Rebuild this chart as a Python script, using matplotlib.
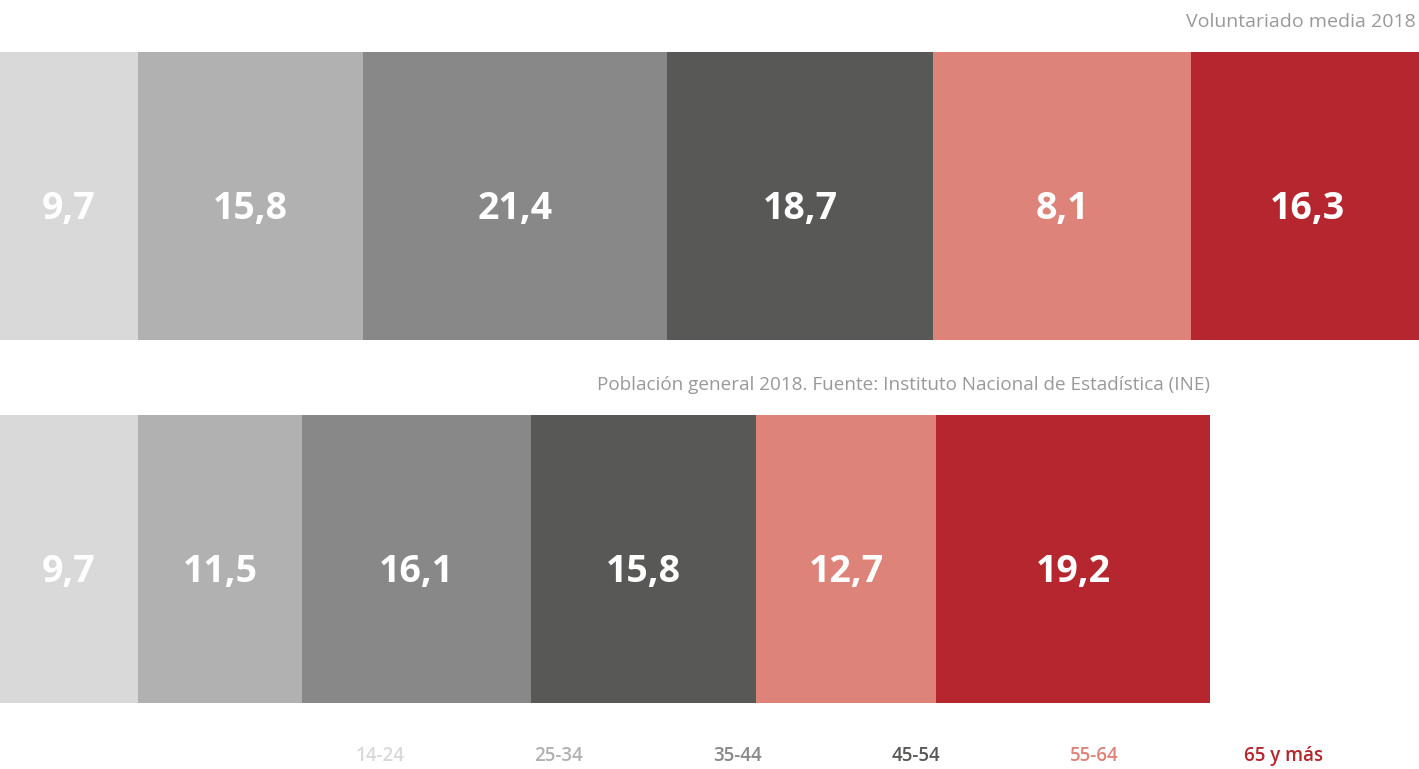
import matplotlib.pyplot as plt
import numpy as np

# Age groups and shares (%)
groups = ['14-24', '25-34', '35-44', '45-54', '55-64', '65 y más']
voluntariado = [9.7, 15.8, 21.4, 18.7, 18.1, 16.3]
voluntariado_labels = ['9,7', '15,8', '21,4', '18,7', '8,1', '16,3']
poblacion = [9.7, 11.5, 16.1, 15.8, 12.7, 19.2]
poblacion_labels = ['9,7', '11,5', '16,1', '15,8', '12,7', '19,2']

colors = ['#d9d9d9', '#b1b1b1', '#888888', '#585857', '#de837a', '#b5262e']

W, H = 1419, 769
fig = plt.figure(figsize=(W / 100, H / 100), dpi=100)
ax = fig.add_axes([0, (H - 703) / H, 1, 651 / H])

bar_h = 288 / 363
rows = [(voluntariado, voluntariado_labels), (poblacion, poblacion_labels)]
for y, (vals, labs) in enumerate(rows):
    left = 0
    for v, lab, c in zip(vals, labs, colors):
        ax.barh(y, v, left=left, height=bar_h, color=c, edgecolor='none')
        ax.text(left + v / 2, y + 23 / 363, lab, ha='center', va='baseline',
                color='white', fontsize=27, fontweight='bold', family='Open Sans')
        left += v

ax.set_xlim(0, W / 14.23)
ax.set_ylim(1 + bar_h / 2, -bar_h / 2)
ax.axis('off')

fig.text(1416 / W, 1 - 22 / H, 'Voluntariado media 2018', ha='right', va='center',
         color='#999999', fontsize=14, family='Open Sans')
ax.text(sum(poblacion), 1 - bar_h / 2 - 30 / 363,
        'Población general 2018. Fuente: Instituto Nacional de Estadística (INE)',
        ha='right', va='center', color='#999999', fontsize=13.6, family='Open Sans')

# legend row
for i, (g, c) in enumerate(zip(groups, colors)):
    x = (380 + 178.6 * i) / W
    if i == 5:
        x = 1283 / W
    fig.text(x, 1 - 756 / H, g, ha='center', va='center', color=c,
             fontsize=13.5, family='Open Sans', fontweight='semibold')

fig.savefig('out.png', dpi=100)
